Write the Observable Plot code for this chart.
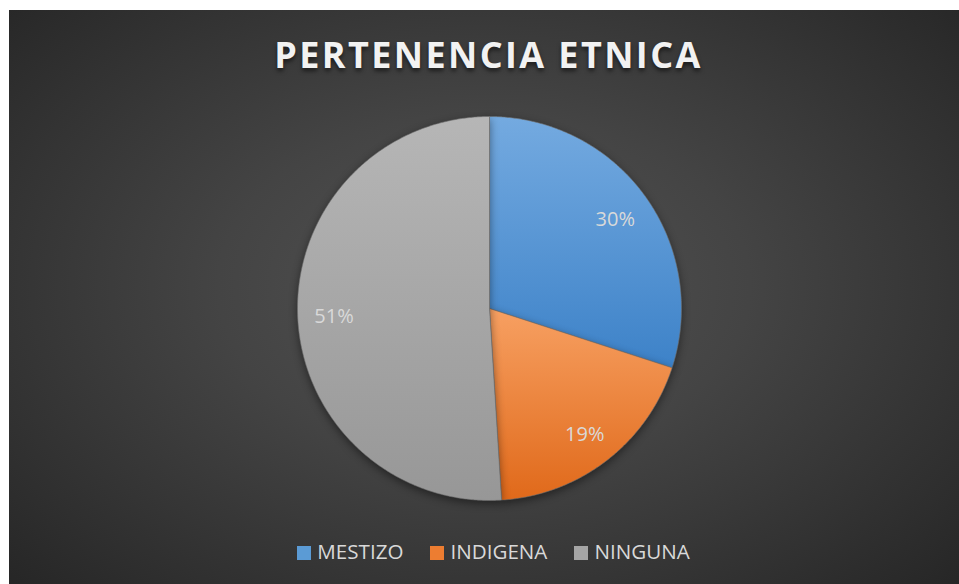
<!DOCTYPE html>
<html>
<head>
<meta charset="utf-8">
<script src="https://cdn.jsdelivr.net/npm/d3@7"></script>
<script src="https://cdn.jsdelivr.net/npm/@observablehq/plot@0.6"></script>
<style>
  html, body { margin: 0; padding: 0; background: #ffffff; width: 959px; height: 584px; overflow: hidden; }
  #chart {
    position: absolute; left: 9px; top: 10px; width: 950px; height: 574px;
    background: radial-gradient(ellipse 70% 75% at 50% 48%, #535353 0%, #444444 40%, #262626 100%);
    font-family: "Open Sans", sans-serif;
  }
  #title {
    position: absolute; left: 0; width: 941px; padding-left: 9px; top: 21px; text-align: center;
    font-family: "Open Sans", sans-serif; font-weight: 700; font-size: 36px; letter-spacing: 2.4px;
    color: #f2f2f2; text-shadow: 0 3px 4px rgba(0,0,0,0.55); line-height: 48px;
  }
  #plot { position: absolute; left: 0; top: 88px; }
  #legend {
    position: absolute; left: 0; width: 931px; padding-left: 19px; top: 527px; text-align: center;
    font-size: 20.6px; color: #d9d9d9; line-height: 28px; white-space: nowrap;
  }
  .item { display: inline-block; margin: 0 13.5px; }
  .sw { display: inline-block; width: 14px; height: 14px; margin-right: 6px; vertical-align: -1px; }
</style>
</head>
<body>
<div id="chart">
  <div id="title">PERTENENCIA ETNICA</div>
  <div id="plot"></div>
  <div id="legend"></div>
</div>
<script>
const categories = ["MESTIZO", "INDIGENA", "NINGUNA"];
const values = [30, 19, 51];
const labels = ["30%", "19%", "51%"];

const gradStops = [
  ["#74aae0", "#3d82c8"],
  ["#f7a062", "#e0691a"],
  ["#b6b6b6", "#979797"]
];
const swatchColors = ["#5b9bd5", "#ed7d31", "#a5a5a5"];

const arcs = d3.pie().sort(null).value(d => d)(values);
const slicePoints = arcs.map((a, i) => {
  const pts = [{x: 0, y: 0, cat: categories[i]}];
  const n = Math.max(2, Math.ceil((a.endAngle - a.startAngle) / (Math.PI / 360)));
  for (let k = 0; k <= n; k++) {
    const t = a.startAngle + (a.endAngle - a.startAngle) * k / n;
    pts.push({x: Math.sin(t), y: Math.cos(t), cat: categories[i]});
  }
  pts.push({x: 0, y: 0, cat: categories[i]});
  return pts;
});
const labelR = 0.81;
const labelData = arcs.map((a, i) => {
  const m = (a.startAngle + a.endAngle) / 2;
  return {x: labelR * Math.sin(m), y: labelR * Math.cos(m), text: labels[i]};
});

const plot = Plot.plot({
  width: 950,
  height: 420,
  marginLeft: 288,
  marginRight: 278,
  marginTop: 18,
  marginBottom: 18,
  x: {domain: [-1, 1], axis: null},
  y: {domain: [-1, 1], axis: null},
  style: {background: "transparent", overflow: "visible"},
  marks: [
    ...slicePoints.map((pts, i) => Plot.line(pts, {
      x: "x", y: "y", fill: `url(#grad${i})`, stroke: "#6e6e6e", strokeWidth: 0.6, strokeLinejoin: "round"
    })),
    Plot.text(labelData, {
      x: "x", y: "y", text: "text", fill: "#d9d9d9", fontSize: 20, dy: 3,
      fontFamily: "Open Sans, sans-serif"
    })
  ]
});

const svg = d3.select(plot);
const defs = svg.insert("defs", ":first-child");
gradStops.forEach((s, i) => {
  const g = defs.append("linearGradient").attr("id", `grad${i}`).attr("x1", 0).attr("y1", 0).attr("x2", 0).attr("y2", 1);
  g.append("stop").attr("offset", "0%").attr("stop-color", s[0]);
  g.append("stop").attr("offset", "100%").attr("stop-color", s[1]);
});
svg.selectAll("g[aria-label='line']").style("filter", "drop-shadow(0px 3px 4px rgba(0,0,0,0.45))");
document.getElementById("plot").appendChild(plot);

const legend = document.getElementById("legend");
categories.forEach((c, i) => {
  const it = document.createElement("span");
  it.className = "item";
  it.innerHTML = `<span class="sw" style="background:${swatchColors[i]}"></span>${c}`;
  legend.appendChild(it);
});
</script>
</body>
</html>
